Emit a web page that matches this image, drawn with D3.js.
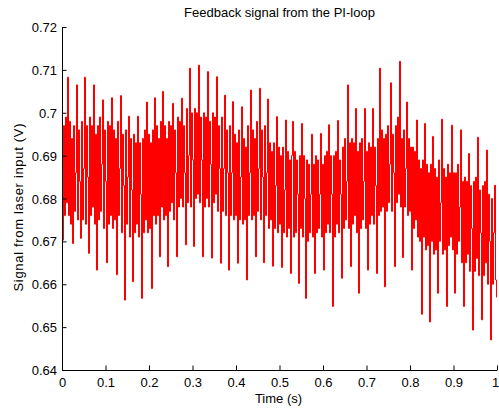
<!DOCTYPE html>
<html>
<head>
<meta charset="utf-8">
<script src="https://cdn.jsdelivr.net/npm/d3@7"></script>
<style>
  html, body { margin: 0; padding: 0; background: #ffffff; }
  svg { display: block; font-family: "Liberation Sans", Arial, Helvetica, sans-serif; }
</style>
</head>
<body>
<svg id="chart" width="499" height="413"></svg>
<script>
// Labels
const title = "Feedback signal from the PI-loop";
const xLabel = "Time (s)";
const yLabel = "Signal from laser input (V)";

// Tick values
const xTicks = [0, 0.1, 0.2, 0.3, 0.4, 0.5, 0.6, 0.7, 0.8, 0.9, 1];
const yTicks = [0.64, 0.65, 0.66, 0.67, 0.68, 0.69, 0.7, 0.71, 0.72];

// Recorded feedback signal (V), uniformly sampled over one second
const sampleRate = 435;
const signal = [
  0.7000,0.6703,0.697,0.676,0.699,0.679,0.7083,0.676,0.698,0.674,
  0.694,0.6695,0.697,0.677,0.686,0.7065,0.675,0.696,0.684,0.6707,
  0.698,0.675,0.687,0.7083,0.674,0.697,0.685,0.6672,0.699,0.676,
  0.697,0.678,0.7065,0.674,0.695,0.6633,0.697,0.675,0.699,0.677,
  0.688,0.7030,0.673,0.696,0.684,0.6650,0.698,0.674,0.697,0.676,
  0.7035,0.673,0.696,0.675,0.694,0.6622,0.698,0.676,0.687,0.7040,
  0.672,0.695,0.683,0.6563,0.696,0.674,0.685,0.6992,0.671,0.694,
  0.682,0.6606,0.695,0.672,0.693,0.674,0.6992,0.671,0.693,0.681,
  0.6567,0.694,0.672,0.696,0.675,0.7025,0.672,0.695,0.673,0.693,
  0.6590,0.696,0.676,0.7035,0.674,0.697,0.676,0.694,0.6664,0.698,
  0.678,0.7050,0.675,0.697,0.676,0.694,0.6641,0.698,0.677,0.697,
  0.679,0.7022,0.675,0.696,0.686,0.6664,0.699,0.678,0.698,0.680,
  0.7034,0.678,0.697,0.686,0.6692,0.701,0.679,0.690,0.7104,0.678,
  0.700,0.689,0.6688,0.701,0.680,0.700,0.681,0.7111,0.679,0.699,
  0.689,0.6664,0.700,0.678,0.699,0.680,0.7096,0.678,0.698,0.688,
  0.6661,0.700,0.679,0.699,0.681,0.7084,0.677,0.697,0.687,0.6649,
  0.699,0.677,0.687,0.7041,0.676,0.696,0.686,0.6633,0.697,0.676,
  0.686,0.7026,0.675,0.695,0.676,0.693,0.6649,0.696,0.675,0.685,
  0.7014,0.674,0.694,0.675,0.692,0.6610,0.697,0.676,0.686,0.7053,
  0.675,0.696,0.676,0.694,0.6664,0.698,0.677,0.687,0.7057,0.675,
  0.696,0.685,0.6650,0.697,0.676,0.686,0.7032,0.673,0.693,0.675,
  0.691,0.6642,0.693,0.673,0.683,0.6991,0.672,0.692,0.674,0.690,
  0.6639,0.692,0.672,0.682,0.6983,0.671,0.691,0.673,0.689,0.6625,
  0.690,0.6980,0.671,0.691,0.672,0.689,0.681,0.6602,0.690,0.673,
  0.6975,0.671,0.690,0.680,0.6567,0.689,0.670,0.688,0.672,0.681,
  0.6950,0.671,0.688,0.6625,0.690,0.672,0.689,0.673,0.681,0.6952,
  0.671,0.688,0.6633,0.690,0.672,0.691,0.674,0.6972,0.672,0.690,
  0.681,0.6548,0.690,0.671,0.691,0.674,0.6982,0.672,0.689,0.681,
  0.6614,0.692,0.673,0.694,0.675,0.684,0.7065,0.673,0.693,0.6641,
  0.694,0.674,0.693,0.676,0.7010,0.672,0.691,0.6579,0.693,0.673,
  0.694,0.675,0.684,0.7010,0.673,0.691,0.6633,0.693,0.674,0.692,
  0.676,0.7010,0.674,0.692,0.683,0.6625,0.694,0.676,0.7104,0.677,
  0.696,0.678,0.694,0.6594,0.695,0.677,0.697,0.679,0.688,0.7070,
  0.677,0.695,0.686,0.6641,0.697,0.679,0.699,0.681,0.7120,0.678,
  0.694,0.6662,0.696,0.678,0.687,0.7025,0.676,0.694,0.677,0.692,
  0.6633,0.692,0.673,0.691,0.675,0.6983,0.671,0.689,0.670,0.687,
  0.6530,0.689,0.671,0.6975,0.668,0.688,0.669,0.686,0.6512,0.688,
  0.670,0.6945,0.667,0.687,0.668,0.685,0.6579,0.689,0.670,0.679,
  0.6985,0.667,0.687,0.668,0.685,0.6548,0.688,0.669,0.686,0.671,
  0.6971,0.668,0.686,0.6579,0.686,0.667,0.688,0.670,0.678,0.6960,
  0.665,0.684,0.6548,0.685,0.665,0.684,0.667,0.6905,0.663,0.683,
  0.673,0.6493,0.684,0.663,0.685,0.666,0.6943,0.662,0.682,0.672,
  0.6517,0.683,0.662,0.684,0.665,0.6913,0.660,0.681,0.670,0.6470,
  0.680,0.660,0.672,0.6831,0.661,0.6570
];

const svg = d3.select("#chart");
const fontSize = 13;

const x = d3.scaleLinear().domain([0, 1]).range([62, 497]);
const y = d3.scaleLinear().domain([0.64, 0.72]).range([370, 27]);

// Signal trace: step rendering so each sample interval shows as a full vertical stroke
const points = signal.map((v, i) => [i / sampleRate, v]);
const line = d3.line()
  .x(d => x(d[0]))
  .y(d => y(d[1]))
  .curve(d3.curveStep);

svg.append("path")
  .datum(points)
  .attr("d", line)
  .attr("fill", "none")
  .attr("stroke", "#ff0000")
  .attr("stroke-width", 1)
  .attr("stroke-linejoin", "miter");

// Axes with inward ticks, no box
const fmt = d => String(+d.toFixed(2));

const xAxis = svg.append("g")
  .attr("transform", `translate(0,${y.range()[0]})`)
  .call(d3.axisBottom(x).tickValues(xTicks).tickFormat(fmt)
    .tickSizeInner(-4.5).tickSizeOuter(0).tickPadding(0));

const yAxis = svg.append("g")
  .attr("transform", `translate(${x.range()[0]},0)`)
  .call(d3.axisLeft(y).tickValues(yTicks).tickFormat(fmt)
    .tickSizeInner(-4.5).tickSizeOuter(0).tickPadding(5));

[xAxis, yAxis].forEach(g => {
  g.selectAll("path.domain").attr("stroke", "#000").attr("stroke-width", 1);
  g.selectAll(".tick line").attr("stroke", "#000").attr("stroke-width", 1);
  g.selectAll(".tick text")
    .attr("fill", "#000")
    .style("font-size", fontSize + "px")
    .style("font-family", "'Liberation Sans', Arial, sans-serif");
});

xAxis.selectAll(".tick text").attr("y", 7.3).attr("dy", "0.71em");
// keep the last label inside the canvas
xAxis.selectAll(".tick text").filter(d => d === 1).attr("dx", -1.8);
yAxis.selectAll(".tick text").attr("dy", "4.6px");

// Title and axis labels
svg.append("text")
  .attr("x", (x.range()[0] + x.range()[1]) / 2)
  .attr("y", 16.7)
  .attr("text-anchor", "middle")
  .style("font-size", fontSize + "px")
  .attr("fill", "#000")
  .text(title);

svg.append("text")
  .attr("x", (x.range()[0] + x.range()[1]) / 2 - 1)
  .attr("y", 402.5)
  .attr("text-anchor", "middle")
  .style("font-size", fontSize + "px")
  .attr("fill", "#000")
  .text(xLabel);

svg.append("text")
  .attr("transform", "translate(23.3,207.5) rotate(-90)")
  .attr("text-anchor", "middle")
  .attr("textLength", 168)
  .attr("lengthAdjust", "spacing")
  .style("font-size", fontSize + "px")
  .attr("fill", "#000")
  .text(yLabel);
</script>
</body>
</html>
